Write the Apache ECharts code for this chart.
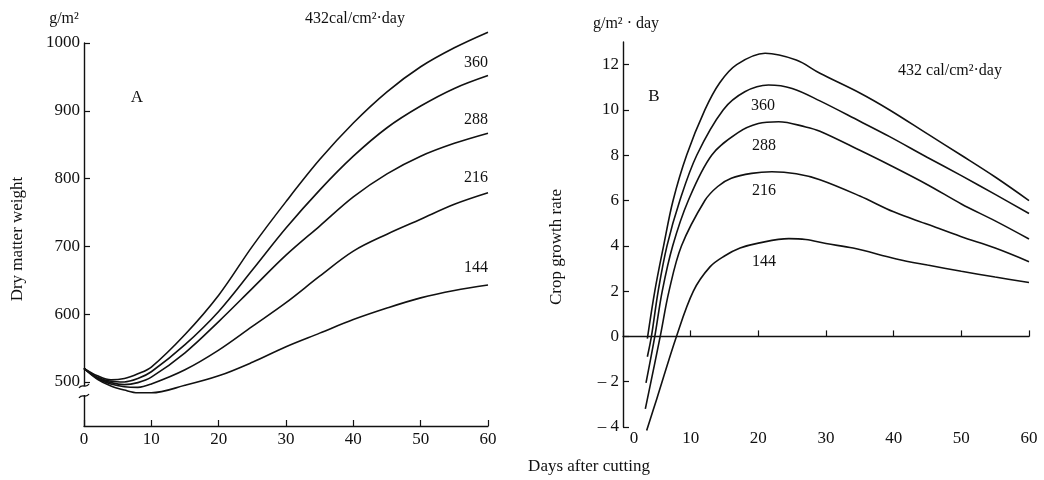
<!DOCTYPE html>
<html>
<head>
<meta charset="utf-8">
<script src="https://cdn.jsdelivr.net/npm/echarts@6/dist/echarts.min.js"></script>
<style>
  html, body { margin: 0; padding: 0; background: #fff; }
  #chart { width: 1044px; height: 480px; }
</style>
</head>
<body>
<div id="chart"></div>
<script>
// A: dry matter weight (g/m2) after cutting
var daysA = [0, 2, 4, 6, 8, 10, 15, 20, 25, 30, 35, 40, 45, 50, 55, 60]
var weight432 = [520, 509, 503, 505, 512, 522, 570, 628, 700, 766, 828, 882, 928, 965, 993, 1016]
var weight360 = [520, 507, 501, 500, 505, 515, 555, 604, 665, 727, 783, 833, 875, 907, 933, 952]
var weight288 = [520, 506, 499, 496, 499, 507, 543, 589, 638, 687, 730, 773, 807, 833, 852, 867]
var weight216 = [520, 505, 497, 493, 492, 497, 518, 547, 582, 617, 656, 693, 718, 740, 762, 779]
var weight144 = [520, 504, 494, 488, 484, 484, 495, 509, 529, 552, 572, 592, 609, 624, 635, 643]

// B: crop growth rate (g/m2 day)
var days432 = [3.6, 4.7, 6, 7.4, 9.4, 12.1, 14.3, 16.8, 21, 25.6, 29.1, 35, 39.4, 45, 50, 55, 60]
var rate432 = [-0.1, 2, 4, 6, 8, 10, 11.2, 12, 12.5, 12.2, 11.62, 10.75, 10.0, 8.94, 8.0, 7.04, 6.0]
var days360 = [3.6, 4.2, 5.2, 6.5, 8.4, 10.9, 14.8, 18, 21.5, 25, 29.1, 35, 39.4, 45, 50, 55, 60]
var rate360 = [-0.9, 0, 2, 4, 6, 8, 10, 10.8, 11.1, 10.95, 10.4, 9.5, 8.82, 7.9, 7.1, 6.27, 5.43]
var days288 = [3.4, 4.7, 5.8, 7.35, 9.65, 13.1, 17, 20, 23, 27, 29.1, 35, 39.4, 45, 50, 55, 60]
var rate288 = [-2.05, 0, 2, 4, 6, 8, 9.0, 9.4, 9.48, 9.25, 9.06, 8.22, 7.57, 6.7, 5.85, 5.1, 4.3]
var days216 = [3.3, 5.5, 6.8, 8.65, 12.1, 14, 16, 19, 22, 25.6, 29.1, 35, 40, 45, 50, 55, 60]
var rate216 = [-3.2, 0, 2, 4, 6, 6.62, 6.98, 7.2, 7.27, 7.18, 6.92, 6.2, 5.5, 4.95, 4.4, 3.9, 3.3]
var days144 = [3.5, 5, 7.9, 10.4, 12.85, 15, 17.3, 20, 24.5, 27, 30, 34, 40.4, 45, 50, 55, 60]
var rate144 = [-4.15, -2.75, 0, 2, 3.07, 3.55, 3.9, 4.12, 4.32, 4.28, 4.1, 3.9, 3.42, 3.15, 2.88, 2.62, 2.38]

var weightTicks = [500, 600, 700, 800, 900, 1000]
var rateTicks = [-4, -2, 0, 2, 4, 6, 8, 10, 12]
var levels = ['360', '288', '216', '144']

var font = 'Liberation Serif'
var ink = '#111'

function pairs(xs, ys) {
  return xs.map(function(x, i) { return [x, ys[i]] })
}

function curve(name, idx, data) {
  return {
    name: name,
    type: 'line',
    xAxisIndex: idx,
    yAxisIndex: idx,
    data: data,
    smooth: 0.35,
    clip: false,
    showSymbol: false,
    silent: true,
    lineStyle: { color: ink, width: 1.6 }
  }
}

function txt(text, x, y, size, extra) {
  var el = {
    type: 'text',
    x: x,
    y: y,
    style: {
      text: text,
      fontFamily: font,
      fontSize: size,
      fill: ink,
      align: 'center',
      verticalAlign: 'middle'
    }
  }
  if (extra) {
    for (var k in extra) el[k] = extra[k]
  }
  return el
}

var axisLine = { lineStyle: { color: ink, width: 1.4 } }
var labelStyle = { color: ink, fontFamily: font, fontSize: 17 }

var chart = echarts.init(document.getElementById('chart'))
chart.setOption({
  backgroundColor: '#fff',
  animation: false,
  grid: [
    { left: 84, right: 556, top: 43, bottom: 54 },
    { left: 623, right: 15, top: 42, bottom: 53 }
  ],
  xAxis: [
    {
      gridIndex: 0, type: 'value', min: 0, max: 60, interval: 10,
      axisLine: axisLine,
      axisTick: { inside: true, length: 6, lineStyle: { color: ink, width: 1.2 } },
      axisLabel: Object.assign({ margin: 5 }, labelStyle),
      splitLine: { show: false }
    },
    {
      gridIndex: 1, type: 'value', min: 0, max: 60, interval: 10,
      axisLine: Object.assign({ onZero: true }, axisLine),
      axisTick: { inside: true, length: 6, lineStyle: { color: ink, width: 1.2 } },
      axisLabel: Object.assign({
        margin: 3,
        formatter: function(v) { return v === 0 ? '{z|0}' : String(v) },
        rich: { z: { fontFamily: font, fontSize: 17, color: ink, padding: [0, 0, 0, 22] } }
      }, labelStyle),
      splitLine: { show: false }
    }
  ],
  yAxis: [
    {
      gridIndex: 0, type: 'value', min: 435, max: 1000,
      axisLine: Object.assign({ show: true }, axisLine),
      axisTick: { show: true, inside: true, length: 6, customValues: weightTicks, lineStyle: { color: ink, width: 1.2 } },
      axisLabel: Object.assign({
        margin: 4,
        customValues: weightTicks,
        formatter: function(v) { return String(v) }
      }, labelStyle),
      splitLine: { show: false }
    },
    {
      gridIndex: 1, type: 'value', min: -4, max: 13,
      axisLine: Object.assign({ show: true, onZero: false }, axisLine),
      axisTick: { show: true, inside: true, length: 6, customValues: rateTicks, lineStyle: { color: ink, width: 1.2 } },
      axisLabel: Object.assign({
        margin: 4,
        customValues: rateTicks,
        formatter: function(v) { return v < 0 ? '\u2013 ' + (-v) : String(v) }
      }, labelStyle),
      splitLine: { show: false }
    }
  ],
  series: [
    curve('432', 0, pairs(daysA, weight432)),
    curve('360', 0, pairs(daysA, weight360)),
    curve('288', 0, pairs(daysA, weight288)),
    curve('216', 0, pairs(daysA, weight216)),
    curve('144', 0, pairs(daysA, weight144)),
    curve('432', 1, pairs(days432, rate432)),
    curve('360', 1, pairs(days360, rate360)),
    curve('288', 1, pairs(days288, rate288)),
    curve('216', 1, pairs(days216, rate216)),
    curve('144', 1, pairs(days144, rate144))
  ],
  graphic: [
    // axis break on the weight axis
    { type: 'rect', shape: { x: 79, y: 386, width: 10, height: 9 }, style: { fill: '#fff' }, z: 100 },
    { type: 'bezierCurve', shape: { x1: 79, y1: 388, x2: 89, y2: 384, cpx1: 82, cpy1: 383, cpx2: 86, cpy2: 389 }, style: { stroke: ink, lineWidth: 1.3, fill: null }, z: 101 },
    { type: 'bezierCurve', shape: { x1: 79, y1: 398, x2: 89, y2: 394, cpx1: 82, cpy1: 393, cpx2: 86, cpy2: 399 }, style: { stroke: ink, lineWidth: 1.3, fill: null }, z: 101 },

    txt('g/m\u00b2', 64, 19, 16),
    txt('432cal/cm\u00b2\u00b7day', 355, 19, 16),
    txt('A', 137, 98, 17),
    txt(levels[0], 476, 63, 16),
    txt(levels[1], 476, 120, 16),
    txt(levels[2], 476, 178, 16),
    txt(levels[3], 476, 268, 16),
    txt('Dry matter weight', 18, 239, 17, { rotation: Math.PI / 2 }),

    txt('g/m\u00b2 \u00b7 day', 626, 24, 16),
    txt('432 cal/cm\u00b2\u00b7day', 950, 71, 16),
    txt('B', 654, 97, 17),
    txt(levels[0], 763, 106, 16),
    txt(levels[1], 764, 146, 16),
    txt(levels[2], 764, 191, 16),
    txt(levels[3], 764, 262, 16),
    txt('Crop growth rate', 557, 247, 17, { rotation: Math.PI / 2 }),

    txt('Days after cutting', 589, 467, 17)
  ]
})
</script>
</body>
</html>
